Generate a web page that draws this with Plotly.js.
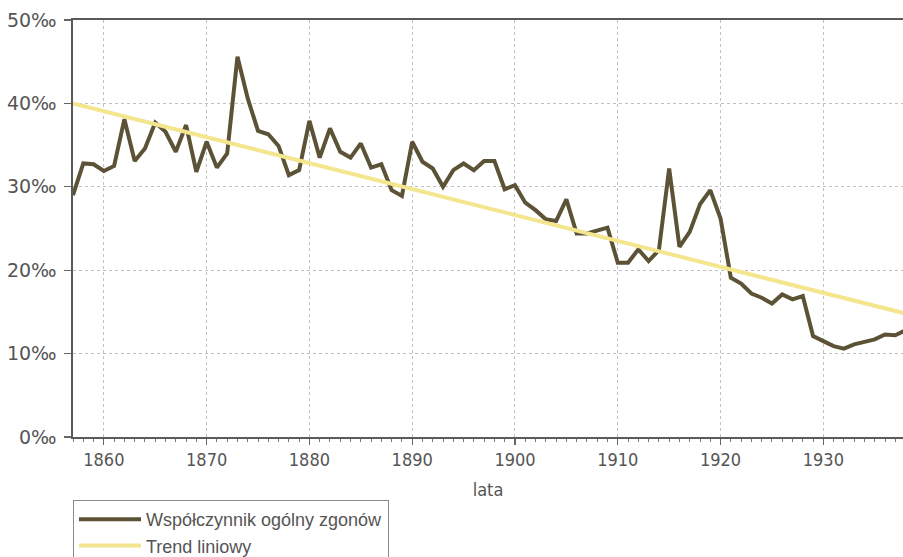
<!DOCTYPE html>
<html>
<head>
<meta charset="utf-8">
<script src="https://cdn.plot.ly/plotly-3.0.1.min.js"></script>
<style>html,body{margin:0;padding:0;background:#fff}#chart{width:903px;height:557px}</style>
</head>
<body>
<div id="chart"></div>
<script>
const years = [];
for (let y = 1857; y <= 1938; y++) years.push(y);
const deathRate = [
  29.0, 32.8, 32.7, 31.9, 32.5, 38.1, 33.1, 34.6, 37.7, 36.6,
  34.2, 37.4, 31.8, 35.4, 32.3, 34.0, 45.6, 40.6, 36.7, 36.3,
  34.9, 31.4, 32.0, 37.9, 33.5, 37.0, 34.2, 33.5, 35.2, 32.3,
  32.7, 29.6, 28.9, 35.4, 33.0, 32.2, 30.0, 32.0, 32.8, 32.0,
  33.1, 33.1, 29.7, 30.2, 28.1, 27.2, 26.1, 25.9, 28.5, 24.4,
  24.4, 24.8, 25.1, 20.9, 20.9, 22.5, 21.1, 22.4, 32.2, 22.8,
  24.6, 27.9, 29.6, 26.2, 19.1, 18.4, 17.2, 16.7, 16.0, 17.1,
  16.5, 16.9, 12.1, 11.5, 10.9, 10.6, 11.1, 11.4, 11.7, 12.3,
  12.2, 12.8
];
const trendYears = [1857, 1938];
const trendValues = [40.0, 14.8];
const yTickVals = [0, 10, 20, 30, 40, 50];
const yTickText = ['0‰', '10‰', '20‰', '30‰', '40‰', '50‰'];
const xTickVals = [1860, 1870, 1880, 1890, 1900, 1910, 1920, 1930];

const traces = [
  {x: years, y: deathRate, type: 'scatter', mode: 'lines', name: 'Współczynnik ogólny zgonów',
   line: {color: '#5c5236', width: 4}},
  {x: trendYears, y: trendValues, type: 'scatter', mode: 'lines', name: 'Trend liniowy',
   line: {color: '#f4e68e', width: 4}}
];

const layout = {
  width: 903, height: 557,
  margin: {l: 73, r: 0, t: 20, b: 120, autoexpand: false},
  paper_bgcolor: '#fff', plot_bgcolor: '#fff',
  showlegend: true,
  legend: {
    x: 0, xanchor: 'left',
    y: -(500 - 437) / 417, yanchor: 'top',
    bgcolor: '#fff', bordercolor: '#8a8a8a', borderwidth: 1,
    font: {family: 'Liberation Sans, Arial, sans-serif', size: 18, color: '#555'},
    itemwidth: 62, entrywidth: 378, tracegroupgap: 0
  },
  xaxis: {
    range: [1857, 1937.75],
    tickvals: xTickVals, ticks: 'outside', ticklen: 6, tickwidth: 1.2, tickcolor: '#666',
    minor: {dtick: 1, ticks: 'outside', ticklen: 3, tickcolor: '#777', tickwidth: 1, showgrid: false},
    showline: true, linecolor: '#5a5a5a', linewidth: 1.6, mirror: true,
    showgrid: true, gridcolor: '#c0c0c0', griddash: 'dot', gridwidth: 1,
    zeroline: false,
    tickfont: {family: 'Liberation Sans Narrow, DejaVu Sans Condensed, sans-serif', size: 18, color: '#555'},
    title: {text: 'lata', standoff: 14,
            font: {family: 'Liberation Sans Narrow, DejaVu Sans Condensed, sans-serif', size: 18, color: '#555'}}
  },
  yaxis: {
    range: [0, 50],
    tickvals: yTickVals, ticktext: yTickText,
    ticks: 'outside', ticklen: 7, tickwidth: 1.2, tickcolor: '#666',
    ticklabelstandoff: 4,
    showline: true, linecolor: '#5a5a5a', linewidth: 1.6,
    showgrid: true, gridcolor: '#c0c0c0', griddash: 'dot', gridwidth: 1,
    zeroline: false,
    tickfont: {family: 'DejaVu Sans, sans-serif', size: 19, color: '#555'}
  }
};

Plotly.newPlot('chart', traces, layout, {displayModeBar: false, staticPlot: true});
</script>
</body>
</html>
